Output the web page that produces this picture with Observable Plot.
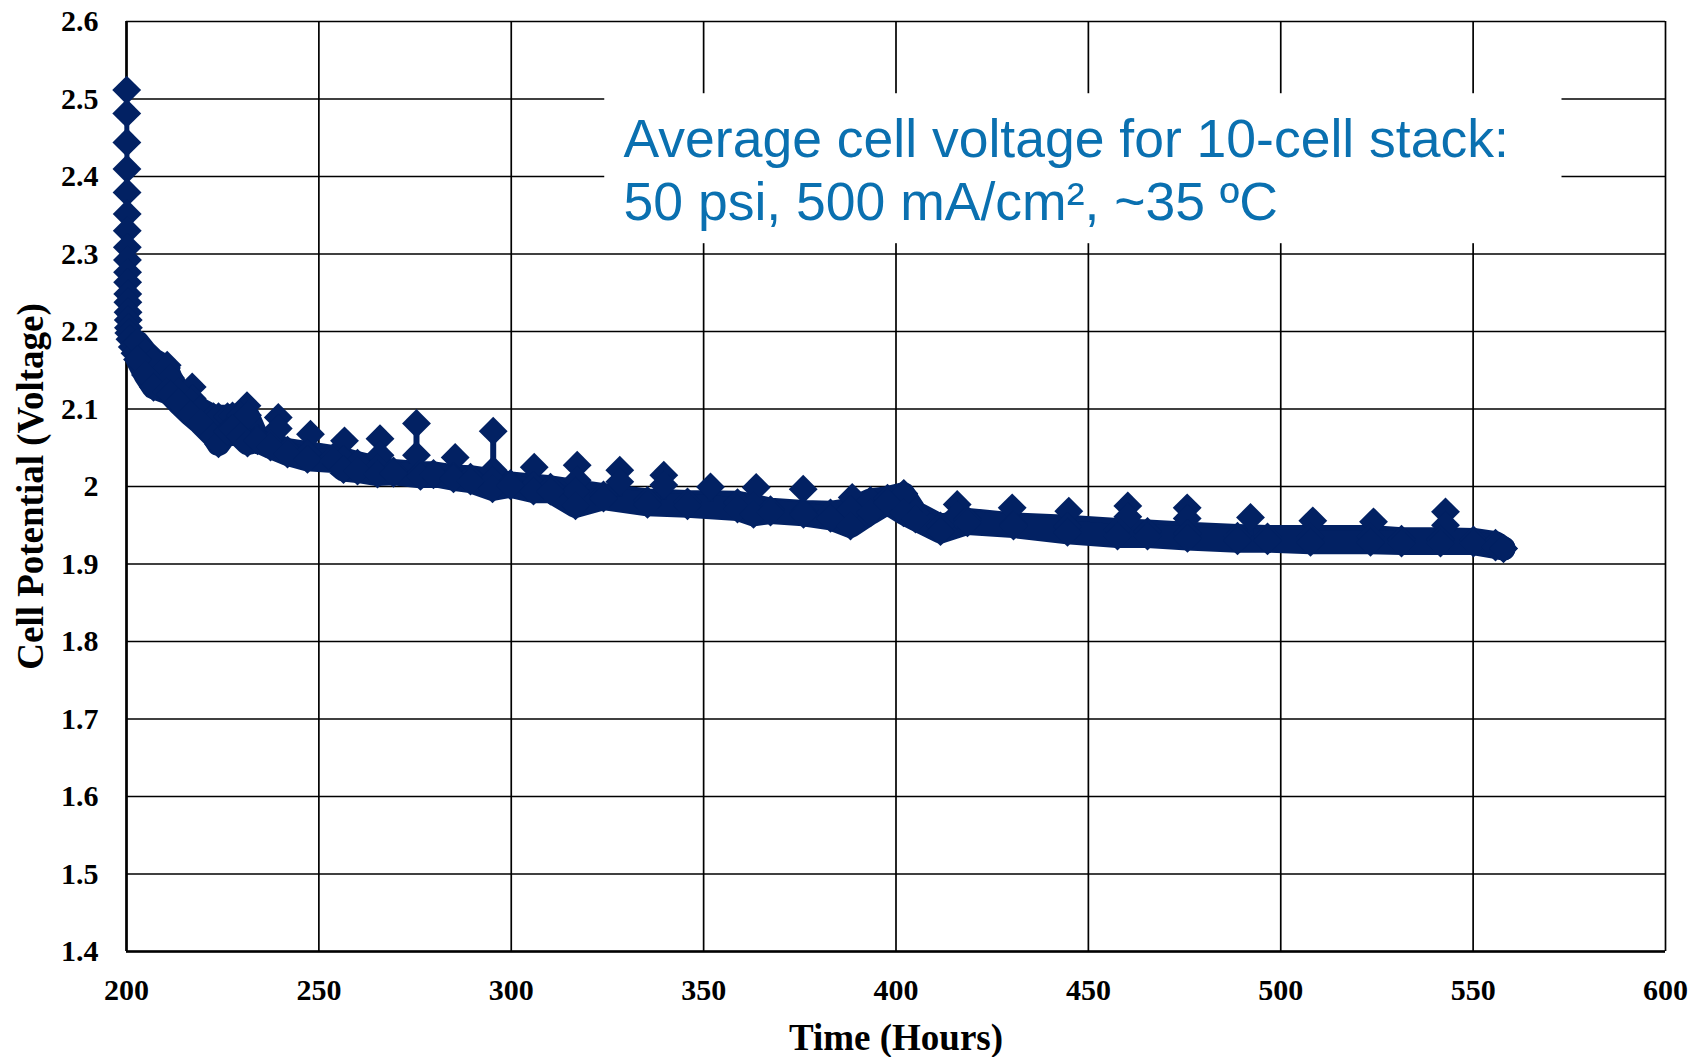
<!DOCTYPE html>
<html>
<head>
<meta charset="utf-8">
<script src="https://cdn.jsdelivr.net/npm/d3@7"></script>
<script src="https://cdn.jsdelivr.net/npm/@observablehq/plot@0.6"></script>
<style>
  html, body { margin: 0; padding: 0; background: #ffffff; }
  #chart { width: 1699px; height: 1057px; }
</style>
</head>
<body>
<div id="chart"></div>
<script>
// ---- Axis ticks ----
const xTicks = [200, 250, 300, 350, 400, 450, 500, 550, 600];
const yTicks = [1.4, 1.5, 1.6, 1.7, 1.8, 1.9, 2.0, 2.1, 2.2, 2.3, 2.4, 2.5, 2.6];
const yTickLabels = ["1.4", "1.5", "1.6", "1.7", "1.8", "1.9", "2", "2.1", "2.2", "2.3", "2.4", "2.5", "2.6"];

// ---- Initial start-up points (Time in hours, cell potential in V) ----
const earlyT = [200.05, 200.07, 200.10, 200.12, 200.15, 200.18, 200.20, 200.22, 200.25, 200.28, 200.30, 200.33, 200.36, 200.40, 200.45, 200.50, 200.60, 200.90, 201.50, 202.20];
const earlyV = [2.5115, 2.4814, 2.4440, 2.4097, 2.3795, 2.3516, 2.3300, 2.3086, 2.2923, 2.2763, 2.2634, 2.2485, 2.2377, 2.2248, 2.2150, 2.2050, 2.1980, 2.1900, 2.1800, 2.1720];

// ---- Main run: upper and lower edge of the point cloud ----
const bandT = [202.86, 204.94, 207.02, 210.40, 211.44, 213.52, 216.63, 219.23, 222.61, 223.91, 226.25, 227.55, 229.63, 231.45, 234.05, 237.43, 241.85, 247.04, 253.80, 256.40, 260.04, 265.24, 269.40, 276.41, 279.79, 284.99, 289.41, 295.13, 299.81, 305.78, 310.20, 316.70, 323.98, 335.41, 345.81, 358.80, 362.96, 367.38, 375.96, 382.98, 388.17, 393.37, 397.79, 401.95, 405.07, 411.57, 418.58, 430.54, 444.57, 457.57, 465.37, 475.76, 488.76, 496.56, 507.73, 523.33, 531.38, 541.52, 550.10, 555.82, 557.90];
const bandHi = [2.186, 2.173, 2.163, 2.153, 2.140, 2.122, 2.109, 2.099, 2.090, 2.090, 2.090, 2.091, 2.092, 2.092, 2.062, 2.055, 2.047, 2.043, 2.038, 2.035, 2.030, 2.024, 2.020, 2.017, 2.017, 2.013, 2.012, 2.008, 2.004, 2.001, 1.999, 1.994, 1.989, 1.982, 1.980, 1.979, 1.975, 1.970, 1.967, 1.966, 1.970, 1.982, 1.985, 1.990, 1.966, 1.949, 1.957, 1.951, 1.948, 1.944, 1.942, 1.939, 1.936, 1.935, 1.935, 1.935, 1.932, 1.932, 1.931, 1.927, 1.920];
const bandLo = [2.164, 2.144, 2.128, 2.122, 2.119, 2.108, 2.093, 2.082, 2.065, 2.055, 2.071, 2.075, 2.065, 2.056, 2.059, 2.051, 2.042, 2.035, 2.033, 2.022, 2.020, 2.016, 2.017, 2.013, 2.015, 2.010, 2.007, 1.997, 2.001, 1.994, 1.994, 1.975, 1.985, 1.977, 1.975, 1.971, 1.964, 1.967, 1.964, 1.959, 1.949, 1.966, 1.979, 1.966, 1.958, 1.942, 1.953, 1.949, 1.941, 1.936, 1.936, 1.933, 1.930, 1.930, 1.928, 1.928, 1.927, 1.927, 1.927, 1.922, 1.920];

// ---- Periodic upward spikes (top point, and where the spike leaves the run) ----
const spikeT = [210.58, 217.08, 231.32, 239.45, 247.82, 256.66, 265.89, 275.37, 285.43, 295.31, 305.97, 317.14, 328.21, 339.65, 351.79, 363.66, 375.88, 388.62, 402.03, 415.91, 430.20, 444.91, 460.25, 475.68, 492.14, 508.33, 524.11, 542.82];
const spikeV = [2.1565, 2.1285, 2.1043, 2.0891, 2.0675, 2.0589, 2.0617, 2.0813, 2.0375, 2.0714, 2.0250, 2.0275, 2.0211, 2.0146, 1.9995, 1.9988, 1.9966, 1.9859, 1.9910, 1.9768, 1.9725, 1.9682, 1.9750, 1.9725, 1.9601, 1.9557, 1.9544, 1.9673];
const spikeBase = [2.153, 2.109, 2.092, 2.052, 2.043, 2.035, 2.024, 2.017, 2.013, 2.008, 2.000, 1.994, 1.987, 1.982, 1.980, 1.975, 1.967, 1.969, 1.990, 1.955, 1.951, 1.947, 1.943, 1.938, 1.936, 1.935, 1.935, 1.932];

// ---- Second (lower) points stacked under some spikes ----
const spike2T = [210.58, 217.08, 239.45, 265.89, 275.37, 295.31, 317.14, 328.21, 339.65, 415.91, 460.25, 475.68, 542.82];
const spike2V = [2.1417, 2.1136, 2.0749, 2.0404, 2.0404, 2.0211, 2.0082, 2.0060, 2.0018, 1.9631, 1.9609, 1.9588, 1.9501];

// ---- Annotation ----
const annoLines = ["Average cell voltage for 10-cell stack:", "50 psi, 500 mA/cm², ~35 ºC"];
const annoX = 329.2;
const annoY = [2.4478, 2.3661];
const annoBox = [{x1: 324.3, x2: 573.1, y1: 2.3133, y2: 2.5068}];

const xTitle = "Time (Hours)";
const yTitle = "Cell Potential (Voltage)";

// ---- Build tables ----
const early = earlyT.map((t, i) => ({t, v: earlyV[i]}));
const band = bandT.map((t, i) => ({t, hi: bandHi[i], lo: bandLo[i]}));
const spikes = spikeT.map((t, i) => ({t, v: spikeV[i], base: spikeBase[i]}));
const spikes2 = spike2T.map((t, i) => ({t, v: spike2V[i]}));
const anno = annoLines.map((s, i) => ({s, x: annoX, y: annoY[i]}));

const navy = "#022163";
const blue = "#0A70B0";
const serif = "'Liberation Serif', 'Times New Roman', serif";
const sans = "'Liberation Sans', Arial, sans-serif";
const R = 13;
const BW = 24;

const chart = Plot.plot({
  width: 1699,
  height: 1057,
  marginLeft: 126,
  marginRight: 34,
  marginTop: 21,
  marginBottom: 106,
  x: {domain: [200, 600], ticks: xTicks, tickSize: 0, tickPadding: 27, label: null, tickFormat: d => String(d)},
  y: {domain: [1.4, 2.6], ticks: yTicks, tickSize: 0, tickPadding: 28, label: null,
      tickFormat: d => yTickLabels[yTicks.findIndex(v => Math.abs(v - d) < 1e-9)]},
  style: {fontFamily: serif, fontWeight: "bold", fontSize: "30px", background: "#ffffff", color: "#000000"},
  marks: [
    Plot.gridX(xTicks, {stroke: "#000", strokeOpacity: 1, strokeWidth: 1.7}),
    Plot.gridY(yTicks, {stroke: "#000", strokeOpacity: 1, strokeWidth: 1.7}),
    Plot.ruleX([xTicks[0]], {stroke: "#000", strokeWidth: 2.6}),
    Plot.ruleY([yTicks[0]], {stroke: "#000", strokeWidth: 2.6}),
    Plot.rect(annoBox, {x1: "x1", x2: "x2", y1: "y1", y2: "y2", fill: "#ffffff"}),
    Plot.text(anno, {x: "x", y: "y", text: "s", textAnchor: "start", lineAnchor: "middle",
      fontFamily: sans, fontWeight: "normal", fontSize: 53.5, fill: blue}),
    // data
    Plot.areaY(band, {x: "t", y1: "lo", y2: "hi", fill: navy}),
    Plot.line(band, {x: "t", y: "hi", stroke: navy, strokeWidth: BW, strokeLinejoin: "round", strokeLinecap: "round"}),
    Plot.line(band, {x: "t", y: "lo", stroke: navy, strokeWidth: BW, strokeLinejoin: "round", strokeLinecap: "round"}),
    Plot.line(early, {x: "t", y: "v", stroke: navy, strokeWidth: 5}),
    Plot.dot(early, {x: "t", y: "v", symbol: "diamond2", r: R, fill: navy, stroke: "none"}),
    Plot.ruleX(spikes, {x: "t", y1: "base", y2: "v", stroke: navy, strokeWidth: 6}),
    Plot.dot(spikes, {x: "t", y: "v", symbol: "diamond2", r: R, fill: navy, stroke: "none"}),
    Plot.dot(spikes2, {x: "t", y: "v", symbol: "diamond2", r: R, fill: navy, stroke: "none"}),
    Plot.dot(band, {x: "t", y: "hi", symbol: "diamond2", r: R, fill: navy, stroke: "none"}),
    Plot.dot(band, {x: "t", y: "lo", symbol: "diamond2", r: R, fill: navy, stroke: "none"}),
    // axis titles
    Plot.text([xTitle], {frameAnchor: "bottom", dy: 87, textAnchor: "middle", lineAnchor: "middle", fontSize: 37, fontWeight: "bold", fontFamily: serif, fill: "#000"}),
    Plot.text([yTitle], {frameAnchor: "left", dx: -95, rotate: -90, textAnchor: "middle", lineAnchor: "middle", fontSize: 37, fontWeight: "bold", fontFamily: serif, fill: "#000"})
  ]
});
document.getElementById("chart").appendChild(chart);
</script>
</body>
</html>
